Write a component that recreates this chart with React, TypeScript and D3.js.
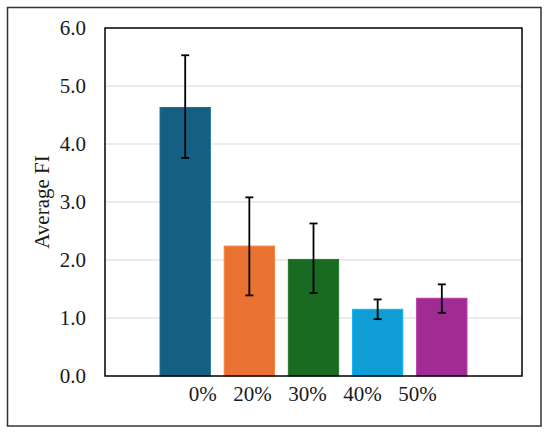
import React from "react";
import * as d3 from "d3";

const categories = ["0%", "20%", "30%", "40%", "50%"];
const means = [4.63, 2.24, 2.01, 1.15, 1.34];
const upper = [5.53, 3.08, 2.63, 1.32, 1.58];
const lower = [3.76, 1.39, 1.43, 0.98, 1.09];
const colors = ["#156082", "#E97132", "#196B24", "#0F9ED5", "#A02B93"];
const yTicks = [0, 1, 2, 3, 4, 5, 6];

const W = 550;
const H = 434;
const plot = { left: 105, right: 522, top: 28, bottom: 376 };

export default function App() {
  const x = d3
    .scaleBand<string>()
    .domain(categories)
    .range([plot.left, plot.right])
    .paddingInner(0.216)
    .paddingOuter(0.858);
  const xLabel = d3.scalePoint<string>().domain(categories).range([216.7, 436.7]);
  const y = d3.scaleLinear().domain([0, 6]).range([plot.bottom, plot.top]);
  const cap = 4;

  return (
    <svg
      width={W}
      height={H}
      style={{ position: "absolute", left: 0, top: 0, background: "#fff", fontFamily: "Liberation Serif" }}
    >
      <rect x={0} y={0} width={W} height={H} fill="#fff" />
      <rect x={7.5} y={7.5} width={533.5} height={418.5} fill="none" stroke="#333" strokeWidth={1.5} />
      {yTicks.slice(1, -1).map((t) => (
        <line key={t} x1={plot.left} x2={plot.right} y1={y(t)} y2={y(t)} stroke="#d9d9d9" strokeWidth={1.2} />
      ))}
      {categories.map((c, i) => (
        <rect
          key={c}
          x={x(c)!}
          y={y(means[i])}
          width={x.bandwidth()}
          height={y(0) - y(means[i])}
          fill={colors[i]}
          stroke={d3.color(colors[i])!.brighter(0.4).formatHex()}
          strokeWidth={1}
        />
      ))}
      {categories.map((c, i) => {
        const cx = x(c)! + x.bandwidth() / 2;
        return (
          <g key={c} stroke="#000" strokeWidth={1.8}>
            <line x1={cx} x2={cx} y1={y(upper[i])} y2={y(lower[i])} />
            <line x1={cx - cap} x2={cx + cap} y1={y(upper[i])} y2={y(upper[i])} />
            <line x1={cx - cap} x2={cx + cap} y1={y(lower[i])} y2={y(lower[i])} />
          </g>
        );
      })}
      <rect
        x={plot.left}
        y={plot.top}
        width={plot.right - plot.left}
        height={plot.bottom - plot.top}
        fill="none"
        stroke="#000"
        strokeWidth={1.5}
      />
      {yTicks.map((t) => (
        <text key={t} x={86} y={y(t)} dy="0.34em" textAnchor="end" fontSize={21} fill="#1a1a1a">
          {t.toFixed(1)}
        </text>
      ))}
      {categories.map((c) => (
        <text key={c} x={xLabel(c)!} y={401} textAnchor="end" fontSize={21} fill="#1a1a1a">
          {c}
        </text>
      ))}
      <text
        transform={`translate(49, ${(plot.top + plot.bottom) / 2}) rotate(-90)`}
        textAnchor="middle"
        fontSize={21}
        fill="#1a1a1a"
      >
        Average FI
      </text>
    </svg>
  );
}
